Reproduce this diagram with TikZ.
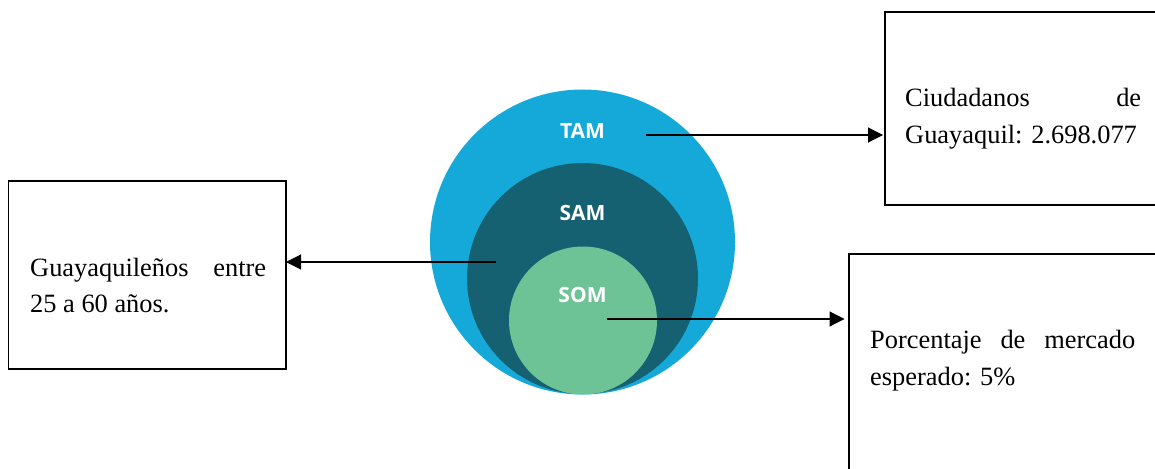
\documentclass[tikz,border=0pt]{standalone}
\usepackage{fontspec}
\setmainfont{Liberation Serif}
\newfontfamily\labelfont{Open Sans}
\usetikzlibrary{arrows.meta}
\tikzset{
  x=1pt,y=-1pt,
  boxshape/.style={draw=black,line width=1.5pt,fill=white,rectangle,inner sep=0pt,outer sep=0pt,anchor=north west},
  boxtext/.style={inner sep=0pt,anchor=north west,align=justify,font=\fontsize{26.4}{36.5}\selectfont},
  disc/.style={circle,inner sep=0pt,anchor=center},
  ring/.style={text=white,font=\labelfont\bfseries\fontsize{21}{24}\selectfont,inner sep=0pt},
  link/.style={draw=black,line width=1.1pt,-{Triangle[length=15pt,width=15pt]}},
}
\definecolor{tamblue}{HTML}{14A9D9}
\definecolor{samteal}{HTML}{156172}
\definecolor{somgreen}{HTML}{6DC396}
\begin{document}
\begin{tikzpicture}
\useasboundingbox (0,0) rectangle (1155,468);
\clip (0,0) rectangle (1155,468);
% concentric market circles
\node[disc,fill=tamblue,minimum size=305pt] (tam) at (582.5,242) {};
\node[disc,fill=samteal,minimum size=231pt] (sam) at (582.5,278.5) {};
\node[disc,fill=somgreen,minimum size=148pt] (som) at (583,320.5) {};
\node[ring] (tamlabel) at (582.5,131) {TAM};
\node[ring] (samlabel) at (582.5,213) {SAM};
\node[ring] (somlabel) at (582.5,295) {SOM};
% boxes
\node[boxshape,minimum width=277.5pt,minimum height=188pt] (boxleft) at (8.5,181) {};
\node[boxshape,minimum width=290pt,minimum height=193pt] (boxtam) at (885,12) {};
\node[boxshape,minimum width=330pt,minimum height=240pt] (boxsom) at (849,254) {};
% box texts
\node[boxtext,text width=236pt] (textleft) at (30,257.5) {Guayaquileños\hfill entre\\25 a 60 años.};
\node[boxtext,text width=236pt] (texttam) at (905,88) {Ciudadanos\hfill de\\Guayaquil: 2.698.077};
\node[boxtext,text width=265pt] (textsom) at (870,330) {Porcentaje\hfill de\hfill mercado\\esperado: 5\%};
% connectors
\coordinate (tamstart) at (646,135);
\coordinate (samstart) at (496,262);
\coordinate (somstart) at (607,319);
\draw[link,shorten >=2pt] (tamstart) -- (tamstart -| boxtam.west);
\draw[link] (samstart) -- (samstart -| boxleft.east);
\draw[link,shorten >=4.5pt] (somstart) -- (somstart -| boxsom.west);
\end{tikzpicture}
\end{document}
